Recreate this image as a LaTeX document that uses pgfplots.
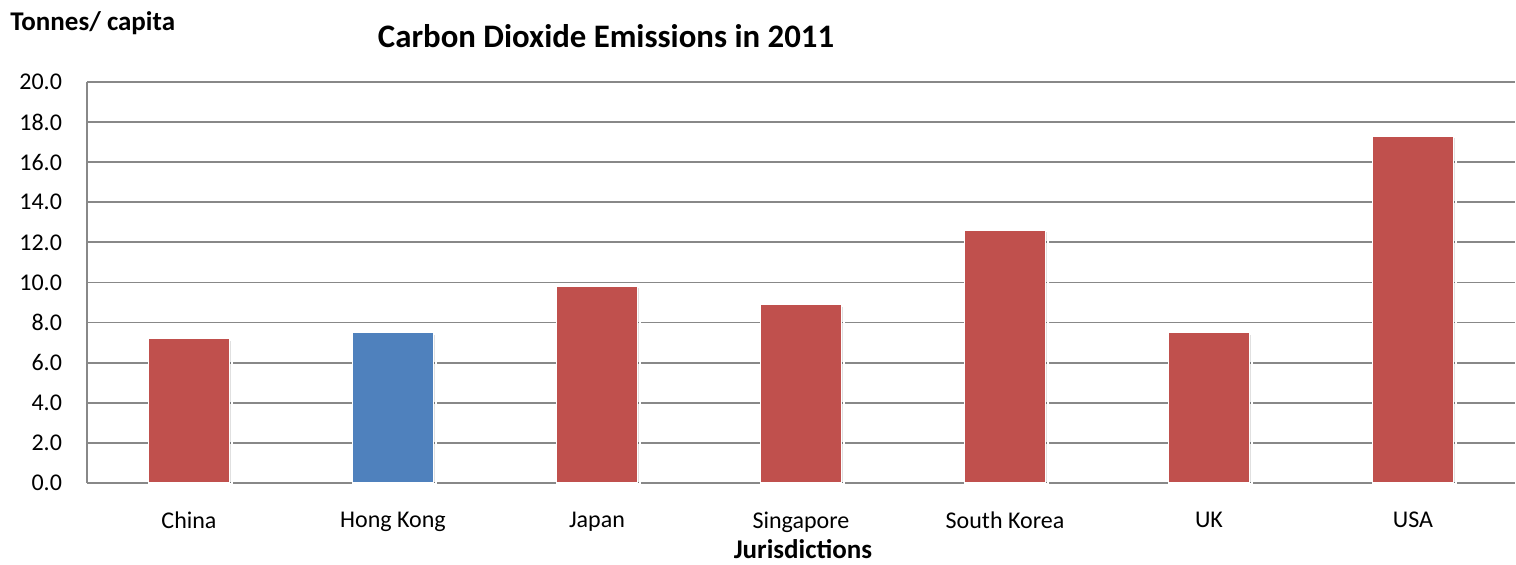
\documentclass[border=0pt]{standalone}
\usepackage{fontspec}
\setmainfont{Carlito}
\usepackage{pgfplots}
\pgfplotsset{compat=1.18}

\definecolor{barred}{HTML}{C0504D}
\definecolor{barblue}{HTML}{4F81BD}
\definecolor{gridgray}{HTML}{888888}

\tikzset{barshadow/.style={preaction={fill=black, fill opacity=0.12,
  transform canvas={xshift=1.2pt, yshift=-0.6pt}}}}

\begin{document}
\begin{tikzpicture}
\useasboundingbox (-43.5pt,-41pt) rectangle (714.5pt,241.5pt);
\begin{axis}[
  at={(0,0)}, anchor=south west,
  scale only axis,
  width=714pt, height=200.5pt,
  xmin=-0.5, xmax=6.5,
  ymin=0, ymax=20,
  ytick={0,2,...,20},
  xtick={0,...,6},
  xticklabels={China,Hong Kong,Japan,Singapore,South Korea,UK,USA},
  ymajorgrids,
  grid style={gridgray, line width=0.9pt},
  axis x line*=bottom,
  axis y line*=left,
  axis line style={gridgray, line width=0.9pt},
  major tick length=0pt,
  tick style={draw=none},
  ticklabel style={font=\fontsize{12}{14}\selectfont},
  /pgf/number format/assume math mode=true,
  /pgf/number format/fixed,
  /pgf/number format/fixed zerofill,
  /pgf/number format/precision=1,
  yticklabel style={xshift=-9pt},
  xticklabel style={yshift=-11pt},
  ybar, bar width=40.5pt,
  bar shift=0pt,
  clip=false,
]
\addplot[fill=barred, draw=white, line width=0.8pt, barshadow] coordinates {
  (0,7.2) (2,9.8) (3,8.9) (4,12.6) (5,7.5) (6,17.3)
};
\addplot[fill=barblue, draw=white, line width=0.8pt, barshadow] coordinates {
  (1,7.5)
};
\end{axis}
\node[anchor=west, inner sep=0pt, font=\bfseries\fontsize{13.5}{15}\selectfont] at (-38.5pt,230pt) {Tonnes/ capita};
\node[inner sep=0pt, font=\bfseries\fontsize{16.4}{19}\selectfont] at (259.5pt,223.5pt) {Carbon Dioxide Emissions in 2011};
\node[inner sep=0pt, font=\bfseries\fontsize{13.5}{15}\selectfont] at (358pt,-33pt) {Jurisdictions};
\end{tikzpicture}
\end{document}
